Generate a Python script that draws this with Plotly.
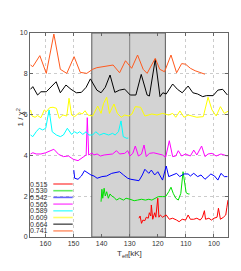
import plotly.graph_objects as go

# ---- data ----
masses = ["0.515", "0.530", "0.542", "0.565", "0.589", "0.609", "0.664", "0.741"]
colors = ["#ff0000", "#00e000", "#0000ff", "#ff00ff", "#00ffff", "#ffff00", "#000000", "#ff5a1e"]

t_741 = [165.3, 164.5, 162.0, 159.7, 157.0, 154.7, 152.4, 149.8, 147.6, 145.3, 143.2, 141.7,
         135.9, 133.6, 131.5, 129.3, 127.2, 125.2, 123.8, 120.9, 119.3, 117.6, 115.3, 113.3,
         111.5, 110.1, 108.4, 106.7, 103.2]
v_741 = [8.43, 8.35, 8.89, 8.02, 9.95, 8.22, 8.02, 8.84, 8.07, 8.02, 8.22, 8.30,
         8.43, 8.05, 8.64, 8.27, 8.92, 8.22, 8.02, 8.76, 8.22, 8.10, 8.92, 8.05,
         8.50, 8.47, 8.27, 8.15, 7.98]

t_664 = [165.3, 164.5, 162.8, 161.6, 159.7, 157.6, 156.2, 154.7, 152.7, 150.9, 149.0, 147.2,
         145.5, 144.0, 141.7, 140.2, 138.7, 137.0, 135.3, 133.6, 131.8, 129.8, 127.8, 125.9,
         123.8, 123.0, 120.9, 119.2, 118.2, 117.0, 114.7, 113.0, 111.3, 109.2, 107.5, 105.8,
         104.0, 102.7, 100.3, 98.6, 96.9, 95.2]
v_664 = [7.24, 7.37, 6.96, 7.12, 7.12, 7.40, 7.61, 7.07, 7.45, 7.24, 7.07, 7.09,
         7.34, 7.75, 7.20, 7.07, 7.34, 7.94, 7.09, 7.20, 7.25, 6.96, 6.96, 7.97,
         6.96, 6.91, 8.71, 6.88, 7.07, 7.01, 7.50, 7.24, 7.07, 7.40, 7.07, 7.01,
         6.88, 6.93, 6.93, 7.20, 7.24, 6.96]

t_609 = [165.3, 164.8, 163.7, 162.8, 161.6, 160.4, 159.7, 158.5, 157.3, 156.1, 155.1, 153.8,
         152.4, 151.6, 150.7, 149.6, 148.0, 146.9, 145.9, 144.9, 143.2, 141.4, 140.2, 139.3,
         138.2, 137.2, 135.6, 134.4, 133.0, 131.8, 130.3, 129.2, 128.0, 126.1, 124.6, 123.2,
         122.1, 120.3, 118.3, 116.1, 114.7, 113.6, 112.1, 110.7, 109.2, 107.8, 106.1, 103.8,
         102.1, 100.7, 99.2, 97.7, 96.3, 94.8]
v_609 = [6.23, 5.93, 5.87, 5.95, 5.85, 6.23, 6.14, 6.34, 6.36, 6.31, 5.82, 5.98,
         5.93, 6.80, 5.98, 5.90, 6.09, 6.03, 6.19, 5.98, 5.93, 6.42, 6.06, 6.55,
         6.85, 6.06, 6.52, 6.06, 5.87, 5.98, 5.93, 6.03, 6.39, 6.36, 5.93, 5.98,
         6.03, 5.98, 6.06, 5.98, 6.06, 5.87, 6.18, 5.87, 5.98, 5.93, 5.87, 5.90,
         6.85, 6.23, 5.93, 6.39, 6.06, 6.18]

t_589 = [165.3, 164.5, 163.3, 162.2, 161.0, 159.9, 158.7, 157.6, 156.1, 154.7, 153.6, 152.2,
         150.7, 149.6, 148.7, 147.8, 146.7, 145.5, 144.6, 143.2, 142.1, 140.7, 139.2, 137.5,
         136.1, 135.2, 134.0, 133.1, 132.3, 131.1, 130.5]
v_589 = [5.00, 4.92, 5.16, 5.33, 5.25, 5.33, 6.23, 5.16, 5.00, 4.92, 5.00, 5.33,
         5.03, 5.16, 5.08, 5.16, 5.03, 5.16, 5.00, 5.00, 5.16, 5.00, 5.08, 5.00,
         5.08, 5.00, 5.16, 5.69, 4.92, 4.84, 4.85]

t_565 = [165.3, 164.5, 163.3, 161.6, 159.9, 158.2, 157.0, 155.3, 153.6, 151.8, 150.1, 148.4,
         146.7, 145.5, 145.1, 144.6, 143.4, 142.8, 141.6, 140.4, 139.1, 137.6, 136.1, 134.7,
         133.6, 131.8, 130.7, 129.9, 128.9, 128.0, 126.9, 125.8, 124.9, 124.1, 123.0, 121.5,
         120.0, 118.3, 117.2, 115.9, 114.7, 113.6, 112.7, 111.5, 110.1, 108.4, 107.2, 106.1,
         104.4, 103.2, 102.1, 100.7, 99.2, 97.5, 96.3, 95.2]
v_565 = [4.07, 4.13, 4.07, 4.07, 4.13, 4.23, 4.30, 4.05, 3.94, 3.97, 3.81, 3.74,
         3.91, 4.02, 5.85, 4.02, 4.12, 4.02, 4.07, 3.97, 4.02, 4.05, 4.07, 4.23,
         4.07, 4.10, 4.23, 3.97, 4.10, 4.46, 3.97, 4.07, 4.51, 3.94, 4.10, 4.13,
         4.07, 4.02, 3.91, 4.72, 3.94, 3.97, 4.23, 3.97, 4.07, 3.97, 4.26, 4.02,
         4.46, 3.94, 4.07, 4.10, 3.97, 4.07, 4.02, 3.97]

t_542 = [149.9, 149.6, 148.4, 147.2, 146.1, 144.9, 143.8, 142.7, 141.6, 139.9, 138.2, 136.4,
         134.7, 133.6, 132.2, 130.7, 129.6, 127.8, 126.7, 125.5, 124.6, 123.2, 122.3, 121.1,
         120.0, 118.3, 117.0, 116.1, 114.7, 113.3, 112.2, 110.7, 109.2, 108.4, 107.2, 105.8,
         104.6, 103.2, 102.1, 101.1, 99.8, 98.6, 97.5, 96.3, 95.2]
v_542 = [3.28, 2.88, 2.83, 2.99, 3.25, 3.12, 3.04, 2.99, 2.88, 2.96, 2.99, 3.12,
         3.15, 3.20, 3.04, 2.88, 2.83, 2.79, 2.76, 3.04, 3.32, 3.12, 3.28, 3.04,
         3.20, 2.79, 3.48, 2.96, 3.04, 3.12, 2.96, 3.09, 3.09, 2.99, 3.12, 2.96,
         3.04, 2.83, 2.96, 3.09, 2.99, 2.79, 3.12, 2.96, 2.96]

t_530 = [140.2, 139.9, 139.6, 139.1, 138.7, 138.2, 137.6, 137.0, 136.4, 135.6, 134.7, 133.6,
         132.2, 131.3, 129.9, 128.4, 127.2, 125.8, 124.4, 123.2, 122.1, 120.9, 119.8, 118.3,
         117.2, 116.1, 115.3, 114.5, 113.6, 112.7, 111.8, 111.0, 110.3, 109.9, 109.2, 108.7]
v_530 = [1.73, 2.34, 1.90, 2.39, 2.01, 2.22, 1.90, 2.11, 2.01, 1.95, 1.81, 1.90,
         1.81, 1.90, 1.85, 1.78, 1.81, 1.85, 1.81, 1.85, 1.81, 1.90, 1.98, 1.98,
         1.98, 2.22, 2.44, 2.14, 1.90, 1.81, 2.14, 3.20, 2.50, 2.17, 2.11, 2.11]

t_515 = [126.7, 126.3, 125.8, 125.3, 124.6, 124.1, 123.4, 123.0, 122.5, 122.3, 121.8, 121.5,
         121.1, 120.7, 120.3, 120.0, 119.6, 119.1, 118.3, 117.0, 115.9, 114.7, 113.3, 112.4,
         111.3, 110.1, 109.2, 108.4, 107.2, 106.1, 104.9, 104.1, 103.4, 103.0, 101.8, 100.9,
         100.0, 98.9, 98.4, 97.7, 96.6, 95.8, 95.4, 95.0]
v_515 = [0.92, 1.03, 0.67, 0.83, 0.80, 0.97, 0.92, 1.19, 1.03, 1.57, 0.87, 1.03,
         1.19, 0.97, 1.52, 1.90, 0.97, 1.08, 0.97, 1.08, 0.87, 0.92, 0.83, 0.75,
         0.87, 0.83, 1.08, 0.87, 0.87, 0.92, 0.83, 0.97, 1.29, 0.87, 0.92, 0.83,
         0.92, 0.97, 1.41, 0.87, 0.97, 1.08, 1.46, 1.81]

x_ticks = [160, 150, 140, 130, 120, 110, 100]
y_ticks = [0, 2, 4, 6, 8, 10]
band = [143.5, 117.3]
band_mid = 130

series_t = [t_515, t_530, t_542, t_565, t_589, t_609, t_664, t_741]
series_v = [v_515, v_530, v_542, v_565, v_589, v_609, v_664, v_741]

fig = go.Figure()
for name, col, tx, vy in zip(masses, colors, series_t, series_v):
    fig.add_trace(go.Scatter(x=tx, y=vy, mode="lines", name=name,
                             line=dict(color=col, width=1), showlegend=False))

# shaded band and middle line
fig.add_shape(type="rect", xref="x", yref="y", x0=band[0], x1=band[1], y0=0, y1=10,
              fillcolor="#d3d3d3", line=dict(color="#5a5a5a", width=1), layer="between")
fig.add_shape(type="line", xref="x", yref="y", x0=band_mid, x1=band_mid, y0=0, y1=10,
              line=dict(color="#808080", width=1), layer="between")

# page has an 8px body margin; work in page pixels and convert
OFF = 8
FW, FH = 241 - OFF, 271 - OFF
L, T, W, H = 24 - OFF, 33 - OFF, 204, 204


def px(xp):
    return (xp - OFF - L) / W


def py(yp):
    return (T + H - (yp - OFF)) / H


for i, (name, col) in enumerate(zip(masses, colors)):
    yy = 184 + 6.7 * i
    fig.add_annotation(x=px(45), y=py(yy), xref="paper", yref="paper", text=name,
                       showarrow=False, xanchor="right", yanchor="middle",
                       font=dict(size=7, color="#333333", family="Liberation Sans"))
    fig.add_shape(type="line", xref="paper", yref="paper", x0=px(48), x1=px(68),
                  y0=py(yy), y1=py(yy), line=dict(color=col, width=1.6), opacity=0.6)

fig.add_annotation(x=px(127), y=py(247), xref="paper", yref="paper",
                   text="T<sub>eff</sub>[kK]", showarrow=False, yanchor="top",
                   font=dict(size=8, color="#333333", family="Liberation Sans"))
fig.add_annotation(x=px(6), y=py(118), xref="paper", yref="paper",
                   text="1 / χ<sup>2</sup>", showarrow=False, textangle=-90,
                   font=dict(size=8, color="#333333", family="Liberation Sans"))

axis_common = dict(showline=True, linecolor="#666666", linewidth=1, mirror="ticks",
                   ticks="inside", ticklen=3, tickcolor="#666666",
                   showgrid=True, gridcolor="#cccccc", griddash="dot", gridwidth=1,
                   zeroline=False, tickfont=dict(size=7, color="#333333", family="Liberation Sans"))

fig.update_xaxes(range=[165.5, 95], tickvals=x_ticks, ticktext=[str(v) for v in x_ticks],
                 **axis_common)
fig.update_yaxes(range=[0, 10], tickvals=y_ticks, ticktext=[str(v) for v in y_ticks],
                 **axis_common)

fig.update_layout(width=FW, height=FH, margin=dict(l=L, r=FW - L - W, t=T, b=FH - T - H),
                  paper_bgcolor="white", plot_bgcolor="white", showlegend=False)

fig.write_html("out.html")
